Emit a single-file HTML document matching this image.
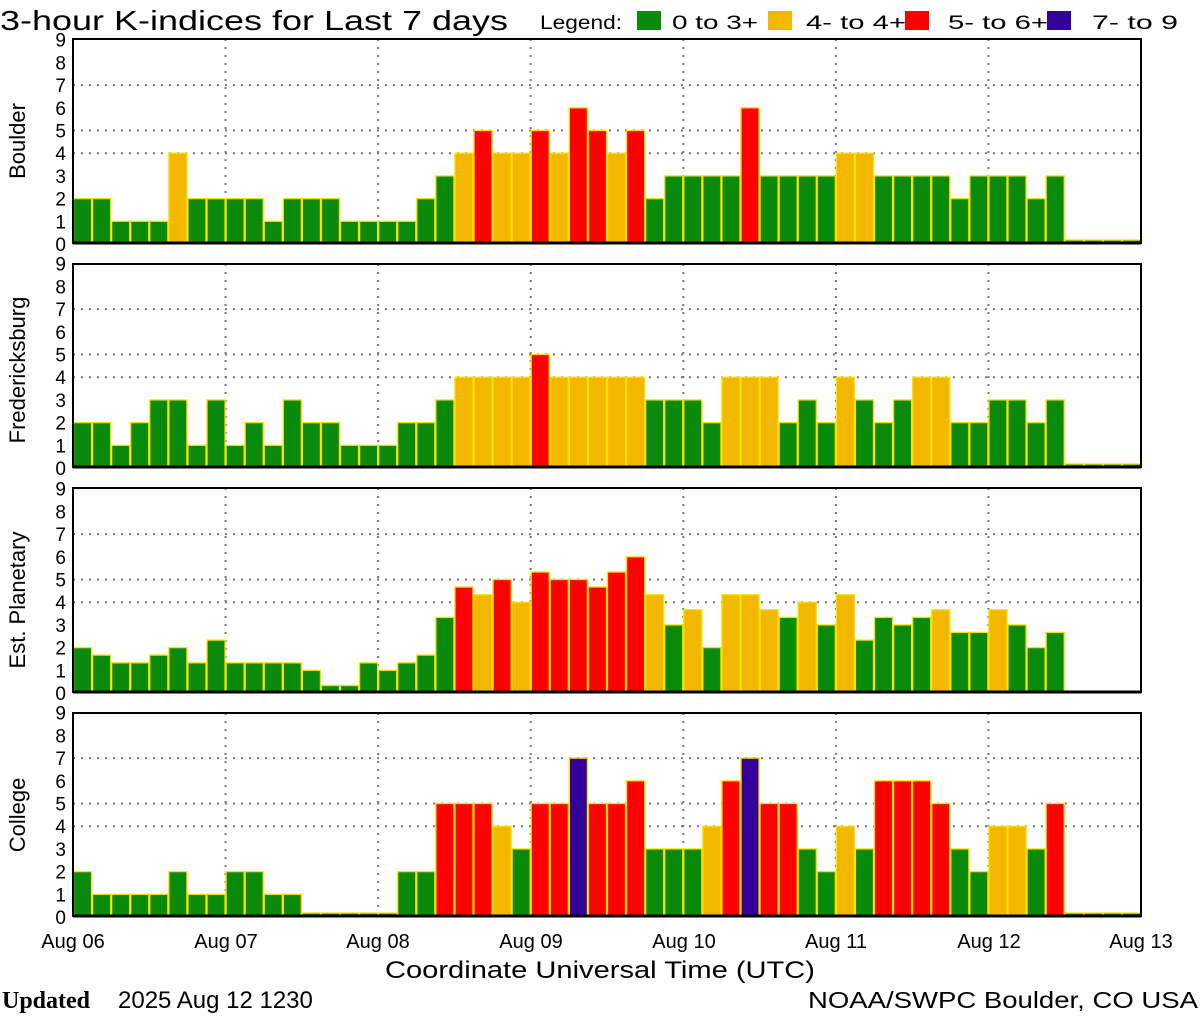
<!DOCTYPE html>
<html><head><meta charset="utf-8">
<style>
html,body{margin:0;padding:0;background:#fff;}
svg{display:block;}
text{font-family:"Liberation Sans",sans-serif;fill:#000;}
</style></head>
<body>
<svg id="s" width="1200" height="1020" viewBox="0 0 1200 1020" xmlns="http://www.w3.org/2000/svg">
<rect x="0" y="0" width="1200" height="1020" fill="#fff"/>
<text x="0" y="30" font-size="28" textLength="508" lengthAdjust="spacingAndGlyphs">3-hour K-indices for Last 7 days</text>
<text x="540" y="29" font-size="19" textLength="82" lengthAdjust="spacingAndGlyphs">Legend:</text>
<rect x="637" y="11" width="24" height="19" fill="#0a8a0a"/>
<text x="672" y="29" font-size="19" textLength="86" lengthAdjust="spacingAndGlyphs">0 to 3+</text>
<rect x="768" y="11" width="24" height="19" fill="#f2b800"/>
<text x="806" y="29" font-size="19" textLength="100" lengthAdjust="spacingAndGlyphs">4- to 4+</text>
<rect x="905" y="11" width="24" height="19" fill="#ff0000"/>
<text x="948" y="29" font-size="19" textLength="100" lengthAdjust="spacingAndGlyphs">5- to 6+</text>
<rect x="1047" y="11" width="24" height="19" fill="#330099"/>
<text x="1092" y="29" font-size="19" textLength="86" lengthAdjust="spacingAndGlyphs">7- to 9</text>
<g id="plots"></g>
<g font-size="22">
<text transform="translate(25,141) rotate(-90)" text-anchor="middle">Boulder</text>
<text transform="translate(25,370) rotate(-90)" text-anchor="middle">Fredericksburg</text>
<text transform="translate(25,600) rotate(-90)" text-anchor="middle">Est. Planetary</text>
<text transform="translate(25,815) rotate(-90)" text-anchor="middle">College</text>
</g>
<g font-size="20" text-anchor="middle">
<text x="73" y="948">Aug 06</text>
<text x="226" y="948">Aug 07</text>
<text x="378" y="948">Aug 08</text>
<text x="531" y="948">Aug 09</text>
<text x="684" y="948">Aug 10</text>
<text x="836" y="948">Aug 11</text>
<text x="989" y="948">Aug 12</text>
<text x="1141" y="948">Aug 13</text>
</g>
<text x="600" y="978" font-size="24" text-anchor="middle" textLength="430" lengthAdjust="spacingAndGlyphs">Coordinate Universal Time (UTC)</text>
<text x="2" y="1008" font-size="24" font-weight="bold" style="font-family:'Liberation Serif',serif">Updated</text>
<text x="118" y="1008" font-size="24">2025 Aug 12 1230</text>
<text x="1198" y="1008" font-size="23" text-anchor="end" textLength="390" lengthAdjust="spacingAndGlyphs">NOAA/SWPC Boulder, CO USA</text>
</svg>
<script>
(function(){
var NS="http://www.w3.org/2000/svg";
var g=document.getElementById("plots");
function el(t,a){var e=document.createElementNS(NS,t);for(var k in a)e.setAttribute(k,a[k]);g.appendChild(e);return e;}
var tops=[39,264,488,713],bots=[243,467,692,916];
var L=73,R=1141,W=(R-L)/56,U=22.7;
var data=[
[2,2,1,1,1,4,2,2, 2,2,1,2,2,2,1,1, 1,1,2,3,4,5,4,4, 5,4,6,5,4,5,2,3, 3,3,3,6,3,3,3,3, 4,4,3,3,3,3,2,3, 3,3,2,3,0,0,0,0],
[2,2,1,2,3,3,1,3, 1,2,1,3,2,2,1,1, 1,2,2,3,4,4,4,4, 5,4,4,4,4,4,3,3, 3,2,4,4,4,2,3,2, 4,3,2,3,4,4,2,2, 3,3,2,3,0,0,0,0],
[2,1.67,1.33,1.33,1.67,2,1.33,2.33, 1.33,1.33,1.33,1.33,1,0.33,0.33,1.33, 1,1.33,1.67,3.33,4.67,4.33,5,4, 5.33,5,5,4.67,5.33,6,4.33,3, 3.67,2,4.33,4.33,3.67,3.33,4,3, 4.33,2.33,3.33,3,3.33,3.67,2.67,2.67, 3.67,3,2,2.67,-1,-1,-1,-1],
[2,1,1,1,1,2,1,1, 2,2,1,1,0,0,0,0, 0,2,2,5,5,5,4,3, 5,5,7,5,5,6,3,3, 3,4,6,7,5,5,3,2, 4,3,6,6,6,5,3,2, 4,4,3,5,0,0,0,0]
];
function col(v){return v<3.5?"#0a8a0a":v<4.5?"#f2b800":v<6.5?"#ff0000":"#330099";}
for(var p=0;p<4;p++){
 var pt=tops[p],pb=bots[p];
 var yy=function(v){return pb+1-U*v;};
 for(var k=1;k<7;k++){var gx=L+k*(R-L)/7;el("line",{x1:gx,y1:pt,x2:gx,y2:pb,stroke:"#777","stroke-width":2,"stroke-dasharray":"2 6"});}
 [4,5,7].forEach(function(v){el("line",{x1:L,y1:yy(v),x2:R,y2:yy(v),stroke:"#777","stroke-width":2,"stroke-dasharray":"2 6"});});
 for(var i=0;i<56;i++){
  var val=data[p][i];if(val<0)continue;
  var bx=L+i*W,by=(val===0)?pb-3:yy(val);
  el("rect",{x:bx+0.5,y:by,width:W-1,height:pb-by,fill:col(val),stroke:"#ffe000","stroke-width":1.3});
 }
 el("rect",{x:L,y:pt,width:R-L,height:pb-pt,fill:"none",stroke:"#000","stroke-width":2});
 el("line",{x1:L,y1:pb,x2:R,y2:pb,stroke:"#000","stroke-width":3});
 for(var n=0;n<10;n++){var tx=el("text",{x:66,y:yy(n)+7,"font-size":19,"text-anchor":"end"});tx.textContent=String(n);}
}
})();
</script>
</body></html>
